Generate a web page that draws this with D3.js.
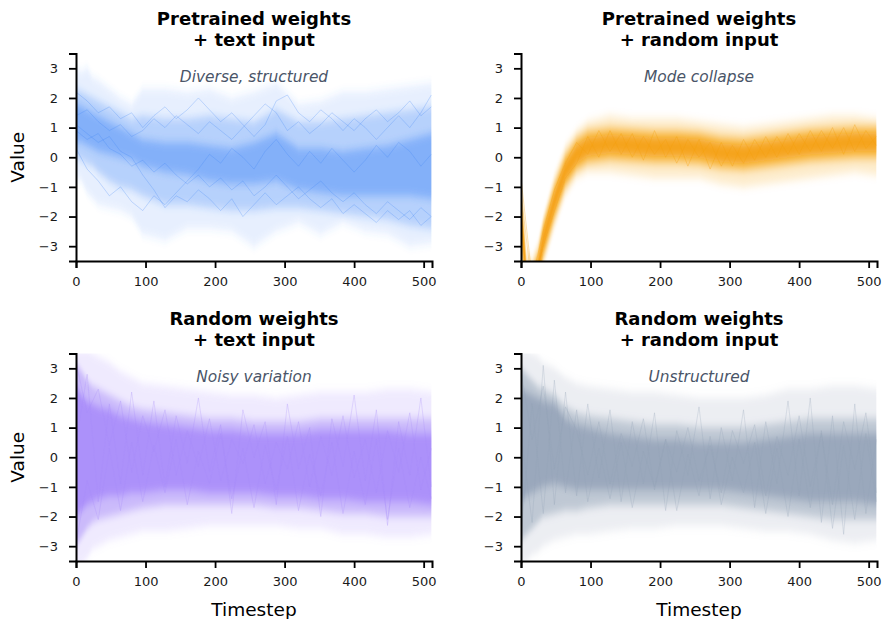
<!DOCTYPE html>
<html>
<head>
<meta charset="utf-8">
<script src="https://cdn.jsdelivr.net/npm/d3@7"></script>
<style>
  body { margin: 0; background: #fff; }
  svg { font-family: "DejaVu Sans", sans-serif; }
</style>
</head>
<body>
<div id="chart"></div>
<script>
const bandSteps = [0, 8, 16, 24, 32, 48, 64, 80, 96, 128, 160, 192, 224, 256, 288, 320, 352, 384, 416, 448, 480, 511];
// timesteps for the individual sample traces
const traceSteps = [0, 16, 32, 48, 64, 80, 96, 112, 128, 144, 160, 176, 192, 208, 224, 240, 256, 272, 288, 304, 320, 336, 352, 368, 384, 400, 416, 432, 448, 464, 480, 496, 511];

const xTicks = [0, 100, 200, 300, 400, 500];
const yTicks = [-3, -2, -1, 0, 1, 2, 3];

const panelTitles = [
  ["Pretrained weights", "+ text input"],
  ["Pretrained weights", "+ random input"],
  ["Random weights", "+ text input"],
  ["Random weights", "+ random input"]
];
const panelNotes = ["Diverse, structured", "Mode collapse", "Noisy variation", "Unstructured"];

// Pretrained weights + text input (blue)
const ptOuterHi = [3.0, 2.9, 3.0, 2.7, 2.6, 2.3, 2.0, 1.8, 2.3, 2.3, 2.2, 2.3, 2.0, 2.2, 2.5, 1.8, 1.9, 2.2, 2.2, 2.3, 2.4, 2.5];
const ptOuterLo = [-0.7, -0.8, -1.2, -1.4, -1.6, -1.7, -1.8, -2.0, -2.6, -2.8, -2.4, -2.4, -2.5, -3.0, -2.5, -2.2, -2.6, -2.2, -2.5, -2.6, -3.0, -2.9];
const ptMidHi = [2.3, 2.2, 2.1, 2.0, 1.9, 1.7, 1.5, 1.3, 1.4, 1.3, 1.3, 1.4, 1.3, 1.2, 1.6, 1.2, 1.2, 1.3, 1.4, 1.5, 1.6, 1.7];
const ptMidLo = [0.0, -0.1, -0.2, -0.3, -0.5, -0.8, -1.0, -1.1, -1.3, -1.6, -1.6, -1.7, -1.8, -1.8, -1.7, -1.7, -1.8, -1.9, -2.0, -2.1, -2.3, -2.4];
const ptCoreHi = [1.8, 1.7, 1.6, 1.5, 1.4, 1.2, 1.0, 0.8, 0.6, 0.5, 0.5, 0.4, 0.3, 0.5, 0.8, 0.3, 0.3, 0.2, 0.3, 0.4, 0.6, 0.8];
const ptCoreLo = [0.5, 0.5, 0.4, 0.3, 0.2, 0.1, 0.0, -0.1, -0.3, -0.5, -0.6, -0.8, -0.9, -0.9, -0.8, -1.1, -1.2, -1.3, -1.3, -1.3, -1.3, -1.4];
const ptTraces = [
  [1.4, 1.6, 1.2, 0.9, 1.1, 0.7, 0.9, 1.3, 1.0, 1.4, 1.1, 0.8, 1.2, 0.9, 0.6, 1.0, 1.4, 1.8, 1.5, 0.9, 1.2, 0.8, 1.1, 1.5, 1.2, 0.9, 1.3, 1.6, 1.2, 1.5, 1.9, 1.4, 1.7],
  [0.9, 0.6, 0.8, 0.3, 0.1, -0.3, -0.1, -0.5, -0.2, -0.6, -0.9, -0.6, -1.0, -0.7, -1.1, -0.8, -1.3, -1.0, -0.6, -1.0, -1.4, -1.1, -0.8, -1.2, -1.5, -1.2, -1.6, -1.9, -1.5, -1.8, -2.1, -1.7, -2.0],
  [0.3, -0.4, -0.8, -1.3, -1.0, -1.5, -1.8, -1.3, -1.6, -1.2, -0.8, -0.4, 0.1, -0.2, 0.3, 0.0, -0.4, 0.2, 0.6, 0.1, -0.3, 0.2, -0.2, 0.3, -0.1, -0.5, -0.1, 0.4, 0.0, 0.5, 0.2, -0.3, 0.1],
  [2.2, 1.9, 1.5, 1.7, 1.3, 1.5, 1.0, 1.4, 1.7, 1.3, 1.6, 2.0, 1.6, 1.2, 1.5, 1.1, 0.7, 1.1, 1.9, 2.1, 1.5, 1.2, 1.6, 1.3, 0.9, 1.3, 1.0, 0.6, 1.0, 1.4, 1.0, 1.5, 2.1],
  [1.1, 0.8, 0.5, 0.7, 0.2, 0.0, -0.6, -1.1, -1.7, -1.3, -1.5, -1.1, -1.4, -1.8, -1.4, -2.0, -1.6, -1.2, -1.6, -1.3, -1.0, -1.4, -1.7, -1.4, -1.9, -1.6, -1.9, -2.2, -1.8, -2.1, -1.8, -2.3, -2.0]
];

// Pretrained weights + random input (orange)
const prOuterHi = [-0.5, -3.2, -3.4, -2.9, -2.0, -0.6, 0.4, 0.9, 1.2, 1.4, 1.3, 1.3, 1.3, 1.2, 1.1, 1.0, 1.1, 1.2, 1.3, 1.4, 1.4, 1.3];
const prOuterLo = [-3.6, -5.0, -5.0, -4.6, -3.7, -2.4, -1.3, -0.7, -0.5, -0.5, -0.6, -0.7, -0.7, -0.7, -0.9, -1.0, -0.9, -0.8, -0.7, -0.6, -0.5, -0.6];
const prMidHi = [-1.0, -3.6, -3.7, -3.2, -2.2, -0.9, 0.1, 0.65, 0.9, 1.0, 0.95, 0.9, 0.9, 0.85, 0.7, 0.65, 0.75, 0.85, 0.95, 1.0, 1.05, 1.05];
const prMidLo = [-3.0, -4.8, -4.9, -4.4, -3.4, -2.1, -1.0, -0.45, -0.2, -0.1, -0.15, -0.2, -0.2, -0.25, -0.4, -0.45, -0.35, -0.25, -0.15, -0.1, -0.05, -0.05];
const prCoreHi = [-1.4, -3.9, -4.0, -3.5, -2.5, -1.2, -0.15, 0.4, 0.65, 0.75, 0.7, 0.65, 0.65, 0.6, 0.45, 0.4, 0.5, 0.6, 0.7, 0.75, 0.8, 0.8];
const prCoreLo = [-2.4, -4.5, -4.6, -4.1, -3.1, -1.8, -0.75, -0.2, 0.05, 0.15, 0.1, 0.05, 0.05, 0.0, -0.15, -0.2, -0.1, 0.0, 0.1, 0.15, 0.2, 0.2];
const prTraces = [
  [-0.7, -4.1, -2.5, -1.1, -0.2, 0.5, 0.1, 0.9, 0.2, 0.8, 0.0, 0.7, 0.1, 0.6, -0.2, 0.6, 0.0, 0.5, -0.3, 0.4, -0.2, 0.6, 0.0, 0.7, 0.1, 0.8, 0.2, 0.9, 0.3, 1.0, 0.2, 0.9, 0.4],
  [-1.2, -4.4, -3.0, -1.8, -0.7, -0.2, 0.7, 0.0, 0.9, 0.1, 0.8, -0.1, 0.9, 0.0, 0.7, -0.3, 0.6, -0.4, 0.5, -0.3, 0.6, -0.1, 0.7, 0.0, 0.8, 0.1, 0.9, 0.2, 1.0, 0.1, 1.1, 0.3, 0.7]
];

// Random weights + text input (purple)
const rtOuterHi = [3.6, 3.6, 3.6, 3.5, 3.4, 3.2, 2.9, 2.7, 2.5, 2.4, 2.3, 2.2, 2.1, 2.1, 2.0, 2.1, 2.2, 2.2, 2.2, 2.3, 2.3, 2.2];
const rtOuterLo = [-3.6, -3.6, -3.4, -3.1, -3.0, -2.8, -2.7, -2.6, -2.5, -2.5, -2.4, -2.3, -2.3, -2.3, -2.3, -2.4, -2.4, -2.6, -2.6, -2.7, -2.7, -2.6];
const rtMidHi = [3.2, 2.9, 2.6, 2.4, 2.3, 2.1, 1.9, 1.7, 1.6, 1.5, 1.4, 1.3, 1.3, 1.2, 1.2, 1.2, 1.3, 1.3, 1.3, 1.3, 1.3, 1.3];
const rtMidLo = [-3.0, -2.7, -2.4, -2.2, -2.1, -2.0, -1.9, -1.8, -1.7, -1.6, -1.6, -1.6, -1.6, -1.6, -1.7, -1.7, -1.8, -1.9, -1.9, -2.0, -2.0, -2.0];
const rtCoreHi = [2.4, 2.1, 1.9, 1.8, 1.7, 1.6, 1.4, 1.3, 1.2, 1.1, 1.0, 0.9, 0.9, 0.8, 0.8, 0.8, 0.9, 0.9, 0.9, 0.9, 0.8, 0.8];
const rtCoreLo = [-2.0, -1.8, -1.6, -1.5, -1.4, -1.3, -1.3, -1.2, -1.2, -1.1, -1.1, -1.2, -1.2, -1.2, -1.3, -1.3, -1.4, -1.4, -1.5, -1.5, -1.5, -1.6];
const rtTraces = [
  [3.2, 1.5, 2.3, 0.4, 1.9, -0.5, 1.4, 0.2, 1.6, -0.6, 0.9, -0.3, 1.3, -0.8, 0.6, -0.2, 1.1, -0.9, 0.5, -0.4, 1.2, -1.0, 0.7, -0.6, 1.4, -0.7, 0.6, -1.2, 0.9, -0.5, 1.5, -1.1, 0.3],
  [-2.9, -0.8, -2.1, 0.3, -1.8, 0.5, -1.5, 0.4, -1.2, 0.6, -1.6, 0.2, -0.9, 0.8, -1.4, 0.3, -1.7, 0.4, -1.1, 0.7, -1.8, 0.1, -1.3, 0.5, -1.9, 0.2, -1.6, 0.6, -2.1, 0.3, -1.7, 0.0, -1.4],
  [0.5, 2.8, -1.5, 1.8, -0.9, 2.2, -0.6, 1.9, -1.0, 1.4, -0.2, 2.0, -0.5, 1.1, -1.9, 1.6, 0.0, 1.2, -1.6, 1.8, -0.4, 1.0, -2.0, 1.3, -0.3, 2.1, -0.8, 1.6, -2.3, 1.2, -0.6, 2.0, -1.0]
];

// Random weights + random input (slate)
const rrOuterHi = [3.6, 3.6, 3.5, 3.4, 3.2, 3.0, 2.7, 2.5, 2.4, 2.3, 2.2, 2.2, 2.1, 2.0, 2.0, 2.0, 2.1, 2.3, 2.3, 2.4, 2.4, 2.3];
const rrOuterLo = [-3.6, -3.5, -3.3, -3.2, -3.0, -2.8, -2.7, -2.6, -2.6, -2.5, -2.4, -2.4, -2.3, -2.3, -2.3, -2.4, -2.5, -2.5, -2.6, -2.8, -2.9, -2.8];
const rrMidHi = [3.0, 2.8, 2.6, 2.4, 2.3, 2.1, 1.7, 1.5, 1.4, 1.3, 1.2, 1.1, 1.1, 1.0, 1.0, 1.0, 1.1, 1.2, 1.3, 1.3, 1.3, 1.3];
const rrMidLo = [-2.8, -2.6, -2.4, -2.2, -2.0, -1.9, -1.8, -1.8, -1.7, -1.6, -1.6, -1.6, -1.6, -1.6, -1.6, -1.7, -1.8, -1.9, -2.0, -2.1, -2.1, -2.1];
const rrCoreHi = [2.3, 2.2, 2.1, 2.0, 1.9, 1.8, 1.3, 1.1, 1.0, 0.8, 0.7, 0.6, 0.6, 0.5, 0.5, 0.5, 0.6, 0.7, 0.8, 0.8, 0.8, 0.8];
const rrCoreLo = [-1.5, -1.3, -1.2, -1.1, -1.0, -0.9, -1.0, -1.1, -1.1, -1.1, -1.1, -1.1, -1.1, -1.1, -1.1, -1.2, -1.3, -1.4, -1.5, -1.5, -1.5, -1.6];
const rrTraces = [
  [2.9, 0.6, 2.4, -0.4, 1.7, 0.9, -0.6, 1.2, -0.9, 0.8, -0.3, 1.3, -1.1, 0.6, -0.5, 1.0, -0.8, 0.4, -1.2, 0.9, -0.2, 1.1, -1.3, 0.7, -0.6, 1.4, -1.0, 0.8, -1.6, 1.2, -0.4, 1.5, -1.2],
  [-2.6, 1.8, -1.9, 2.6, -1.2, 1.6, -1.5, 0.3, -1.4, 0.5, -1.7, 0.2, -1.0, 0.6, -1.8, 0.1, -1.3, 0.7, -1.6, 0.0, -1.2, 0.5, -1.9, 0.3, -2.0, 0.6, -1.7, 0.9, -2.4, 0.4, -2.1, 0.8, -1.5],
  [0.8, -2.2, 3.1, -1.6, 2.2, -1.3, 1.8, -0.7, 1.6, -1.5, 1.2, -0.9, 1.5, -1.8, 0.9, -0.6, 1.7, -1.4, 1.0, -0.8, 1.6, -1.7, 1.2, -0.9, 1.9, -1.3, 2.0, -2.2, 1.4, -2.6, 1.8, -1.9, 0.6]
];

const panels = [
  { col: 0, row: 0, color: "#3b82f6", alphas: [0.13, 0.28, 0.42], traceAlpha: 0.25,
    outer: [ptOuterLo, ptOuterHi], mid: [ptMidLo, ptMidHi], core: [ptCoreLo, ptCoreHi], traces: ptTraces },
  { col: 1, row: 0, color: "#f59e0b", alphas: [0.2, 0.55, 0.85], traceAlpha: 0.3,
    outer: [prOuterLo, prOuterHi], mid: [prMidLo, prMidHi], core: [prCoreLo, prCoreHi], traces: prTraces },
  { col: 0, row: 1, color: "#a78bfa", alphas: [0.18, 0.5, 0.85], traceAlpha: 0.25,
    outer: [rtOuterLo, rtOuterHi], mid: [rtMidLo, rtMidHi], core: [rtCoreLo, rtCoreHi], traces: rtTraces },
  { col: 1, row: 1, color: "#94a3b8", alphas: [0.18, 0.5, 0.85], traceAlpha: 0.25,
    outer: [rrOuterLo, rrOuterHi], mid: [rrMidLo, rrMidHi], core: [rrCoreLo, rrCoreHi], traces: rrTraces }
];

const W = 883, H = 619;
const colLeft = [76, 521];
const rowTop = [53.5, 353.5];
const plotW = 356, plotH = 207.5;

const svg = d3.select("#chart").append("svg")
  .attr("width", W)
  .attr("height", H);

const defs = svg.append("defs");

// soft vertical fuzz so the band edges look like many overlapping lines
defs.append("filter")
  .attr("id", "fuzz")
  .attr("x", "-5%").attr("y", "-20%")
  .attr("width", "110%").attr("height", "140%")
  .append("feGaussianBlur")
  .attr("stdDeviation", "0.6 4");

panels.forEach((p, i) => {
  const left = colLeft[p.col], top = rowTop[p.row];

  const x = d3.scaleLinear().domain([0, 512]).range([left, left + plotW]);
  const y = d3.scaleLinear().domain([-3.5, 3.5]).range([top + plotH, top]);

  defs.append("clipPath").attr("id", "clip" + i)
    .append("rect")
    .attr("x", left).attr("y", top)
    .attr("width", plotW).attr("height", plotH);

  const g = svg.append("g");
  const plot = g.append("g").attr("clip-path", `url(#clip${i})`);
  const bands = plot.append("g").attr("filter", "url(#fuzz)");

  const area = (lo, hi) => d3.area()
    .x((d, k) => x(bandSteps[k]))
    .y0((d, k) => y(lo[k]))
    .y1((d, k) => y(hi[k]))(bandSteps);

  [p.outer, p.mid, p.core].forEach((band, k) => {
    bands.append("path")
      .attr("d", area(band[0], band[1]))
      .attr("fill", p.color)
      .attr("fill-opacity", p.alphas[k]);
  });

  const line = d3.line()
    .x((d, k) => x(traceSteps[k]))
    .y(d => y(d));

  p.traces.forEach(tr => {
    plot.append("path")
      .datum(tr)
      .attr("d", line)
      .attr("fill", "none")
      .attr("stroke", p.color)
      .attr("stroke-opacity", p.traceAlpha)
      .attr("stroke-width", 1);
  });

  // axes
  const xAxis = g.append("g")
    .attr("transform", `translate(0,${top + plotH})`)
    .call(d3.axisBottom(x).tickValues(xTicks).tickSize(7).tickPadding(9));
  const yAxis = g.append("g")
    .attr("transform", `translate(${left},0)`)
    .call(d3.axisLeft(y).tickValues(yTicks).tickSize(7).tickPadding(11)
      .tickFormat(d => d < 0 ? "\u2212" + Math.abs(d) : d));

  [xAxis, yAxis].forEach(a => {
    a.select(".domain").attr("stroke", "#000").attr("stroke-width", 2);
    a.selectAll(".tick line").attr("stroke", "#000").attr("stroke-width", 1.8);
    a.selectAll(".tick text")
      .attr("fill", "#1a1a1a")
      .style("font-size", "13px")
      .style("font-family", "DejaVu Sans");
  });

  // title
  const cx = left + plotW / 2;
  const title = g.append("text")
    .attr("x", cx)
    .attr("y", top - 28.5)
    .attr("text-anchor", "middle")
    .style("font-size", "18px")
    .style("font-weight", "bold")
    .attr("fill", "#000");
  title.append("tspan").attr("x", cx).attr("dy", 0).text(panelTitles[i][0]);
  title.append("tspan").attr("x", cx).attr("dy", 21).text(panelTitles[i][1]);

  g.append("text")
    .attr("x", cx)
    .attr("y", top + 28.5)
    .attr("text-anchor", "middle")
    .style("font-size", "15.4px")
    .style("font-style", "italic")
    .attr("fill", "#4a5568")
    .text(panelNotes[i]);

  if (p.col === 0) {
    g.append("text")
      .attr("transform", `translate(24,${top + plotH / 2}) rotate(-90)`)
      .attr("text-anchor", "middle")
      .style("font-size", "18.5px")
      .attr("fill", "#000")
      .text("Value");
  }
  if (p.row === 1) {
    g.append("text")
      .attr("x", cx)
      .attr("y", 616)
      .attr("text-anchor", "middle")
      .style("font-size", "18.5px")
      .attr("fill", "#000")
      .text("Timestep");
  }
});
</script>
</body>
</html>
